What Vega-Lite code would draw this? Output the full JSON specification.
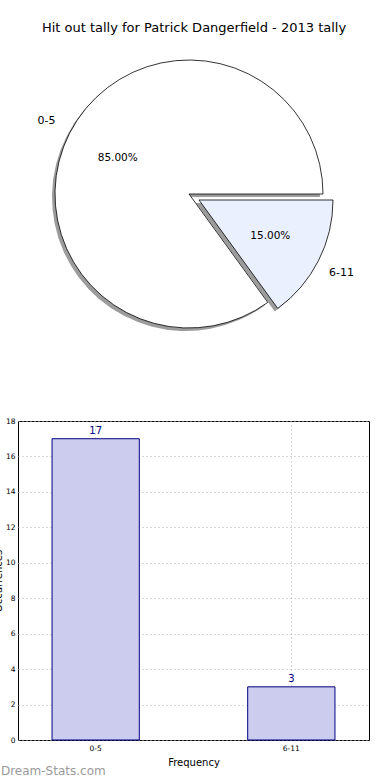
{
  "$schema": "https://vega.github.io/schema/vega-lite/v6.json",
  "padding": {"left": -8, "top": 22, "right": 0, "bottom": 4},
  "background": "white",
  "config": {"font": "DejaVu Sans", "view": {"stroke": null}},
  "title": {"text": "Dream-Stats.com", "orient": "bottom", "anchor": "start", "frame": "bounds", "color": "#9a9a9a", "fontSize": 12, "fontWeight": "normal", "offset": -2, "dx": 8},
  "data": {"values": [
    {"range": "0-5", "count": 17, "pct": "85.00%"},
    {"range": "6-11", "count": 3, "pct": "15.00%"}
  ]},
  "vconcat": [
    {
      "width": 352,
      "height": 298,
      "title": {"text": "Hit out tally for Patrick Dangerfield - 2013 tally", "fontSize": 13, "fontWeight": "normal", "color": "#000000", "anchor": "middle", "offset": 10},
      "view": {"stroke": null},
      "encoding": {
        "theta": {"field": "count", "type": "quantitative", "stack": true, "scale": {"domain": [0, 20], "range": [1.5708, 7.854]}},
        "order": {"field": "range", "sort": "descending"}
      },
      "layer": [
        {
          "mark": {"type": "arc", "outerRadius": 134, "fill": "#9c9c9c", "stroke": null,
            "xOffset": {"expr": "datum.range === '6-11' ? 2 : -8"},
            "yOffset": {"expr": "datum.range === '6-11' ? 9 : 3"}}
        },
        {
          "mark": {"type": "arc", "outerRadius": 134, "stroke": "#000000", "strokeWidth": 0.8,
            "xOffset": {"expr": "datum.range === '6-11' ? 5 : -5"},
            "yOffset": {"expr": "datum.range === '6-11' ? 6 : 0"}},
          "encoding": {
            "color": {"field": "range", "type": "nominal", "scale": {"domain": ["0-5", "6-11"], "range": ["#ffffff", "#eaf0fd"]}, "legend": null}
          }
        },
        {
          "mark": {"type": "text", "radius": 160, "fontSize": 11, "color": "#000000",
            "xOffset": {"expr": "datum.range === '6-11' ? 5 : -5"},
            "yOffset": {"expr": "datum.range === '6-11' ? 6 : 0"}},
          "encoding": {"text": {"field": "range"}}
        },
        {
          "mark": {"type": "text", "radius": 80, "fontSize": 10.5, "color": "#000000",
            "xOffset": {"expr": "datum.range === '6-11' ? 5 : -5"},
            "yOffset": {"expr": "datum.range === '6-11' ? 6 : 0"}},
          "encoding": {"text": {"field": "pct"}}
        }
      ]
    },
    {
      "width": 351,
      "height": 319,
      "view": {"stroke": "#000000", "strokeWidth": 1},
      "encoding": {
        "x": {"field": "range", "type": "nominal", "sort": ["0-5", "6-11"],
          "scale": {"paddingInner": 0.554, "paddingOuter": 0.174},
          "axis": {"title": "Frequency", "titleFontSize": 10, "titleFontWeight": "normal", "titlePadding": 6, "labelAngle": 0, "labelFontSize": 7.5, "labelColor": "#000000", "domain": false, "ticks": false, "labelPadding": 4, "grid": true, "gridColor": "#b0b0b0", "gridDash": [1, 3], "gridWidth": 1, "bandPosition": 0.5}},
        "y": {"field": "count", "type": "quantitative",
          "scale": {"domain": [0, 18], "nice": false},
          "axis": {"title": "Occurrences", "titleFontSize": 10, "titleFontWeight": "normal", "titlePadding": 2, "values": [0, 2, 4, 6, 8, 10, 12, 14, 16, 18], "labelFontSize": 7.5, "labelColor": "#000000", "domain": false, "ticks": false, "labelPadding": 3, "gridColor": "#b0b0b0", "gridDash": [1, 3], "gridWidth": 1}}
      },
      "layer": [
        {"mark": {"type": "bar", "fill": "#ccccee", "stroke": "#000080", "strokeWidth": 1}},
        {"mark": {"type": "text", "dy": -8, "fontSize": 10, "color": "#000080"},
          "encoding": {"text": {"field": "count", "type": "quantitative"}}}
      ]
    }
  ],
  "spacing": 73
}
